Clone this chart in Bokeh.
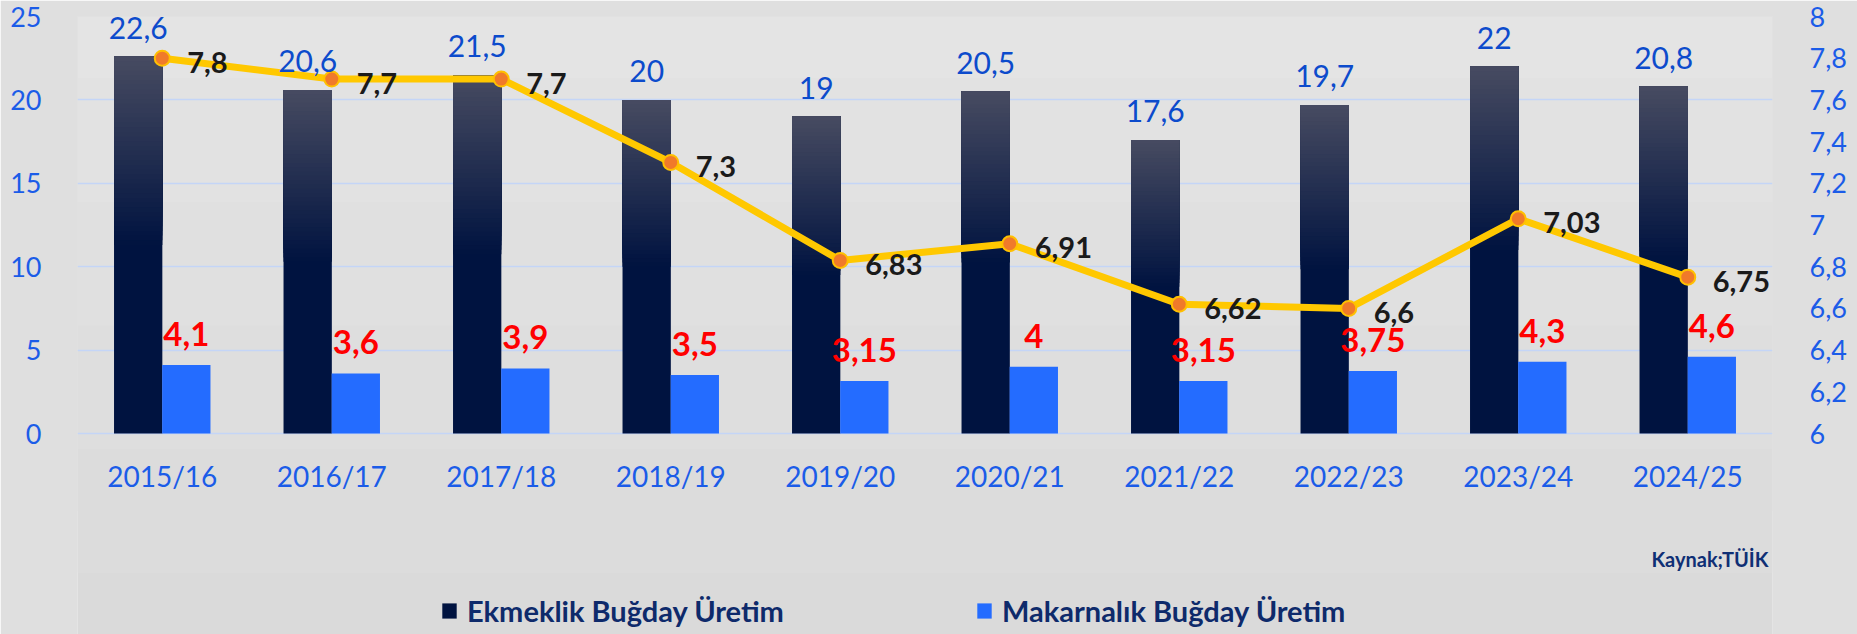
import numpy as np
from bokeh.plotting import figure
from bokeh.models import (FactorRange, Range1d, LinearAxis, FixedTicker, ColumnDataSource,
                          Legend, LegendItem, Label, CustomJSTickFormatter, BoxAnnotation)
from bokeh.transform import dodge
from bokeh.core.properties import value
from bokeh.embed import file_html
from bokeh.resources import INLINE

# ---------------- data ----------------
seasons = ["2015/16", "2016/17", "2017/18", "2018/19", "2019/20",
           "2020/21", "2021/22", "2022/23", "2023/24", "2024/25"]
ekmeklik = [22.6, 20.6, 21.5, 20, 19, 20.5, 17.6, 19.7, 22, 20.8]
makarnalik = [4.1, 3.6, 3.9, 3.5, 3.15, 4, 3.15, 3.75, 4.3, 4.6]
line_series = [7.8, 7.7, 7.7, 7.3, 6.83, 6.91, 6.62, 6.6, 7.03, 6.75]
left_ticks = [0, 5, 10, 15, 20, 25]
right_ticks = [6, 6.2, 6.4, 6.6, 6.8, 7, 7.2, 7.4, 7.6, 7.8, 8]
legend_labels = ["Ekmeklik Buğday Üretim", "Makarnalık Buğday Üretim"]
source_note = "Kaynak;TÜİK"

# ---------------- style ----------------
BG = "#dfdfdf"
BG_TOP = 0xe4
BG_BOTTOM = 0xda
TICK_BLUE = "#1b5ce8"
VAL_BLUE = "#0c4bcc"
NAVY = "#0e2a6b"
DARK_BOTTOM = (0x00, 0x13, 0x40)
DARK_TOP = (0x47, 0x4b, 0x61)
BLUE_BAR = "#246cff"
LINE_COL = "#ffc800"
FONT = "Lato"

W, H = 1857, 634
LEFT, RIGHT, TOP = 77, 85, 16
PLOT_PX = 417          # pixels between value 0 and 25 on the left axis
FRAME_H = H - TOP
below = FRAME_H - PLOT_PX

BAR_W = 0.285
OFF = 0.142


def fmt(v):
    return f"{v:g}".replace(".", ",")


y_lo = 0 - below * 25 / PLOT_PX
r_lo = 6 - below * 2 / PLOT_PX

p = figure(x_range=FactorRange(*seasons, range_padding=0), y_range=Range1d(y_lo, 25),
           width=W, height=H, output_backend="svg", toolbar_location=None,
           min_border_left=LEFT, min_border_right=RIGHT, min_border_top=TOP, min_border_bottom=0)
p.extra_y_ranges = {"right": Range1d(r_lo, 8)}
p.background_fill_color = BG
p.border_fill_color = BG
p.outline_line_color = None

# ---------------- soft vertical background gradient ----------------
NB = 10
for k in range(NB):
    yb = y_lo + (25 - y_lo) * k / NB
    t = (k + 0.5) / NB
    g = int(round(BG_BOTTOM + (BG_TOP - BG_BOTTOM) * t))
    p.add_layout(BoxAnnotation(bottom=yb, fill_color="#%02x%02x%02x" % (g, g, g), fill_alpha=1,
                               line_color=None, level="image"))

# ---------------- dark bars with vertical gradient ----------------
base_src = ColumnDataSource(dict(x=seasons, top=ekmeklik))
dark_base = p.vbar(x=dodge("x", -OFF, range=p.x_range), top="top", bottom=0, width=BAR_W,
                   source=base_src, fill_color="#001340", line_color=None)

N = 40
gx, gb, gt, gc = [], [], [], []
for k in range(N):
    f0 = 0.5 + 0.5 * k / N
    t = (k + 0.5) / N
    c = tuple(int(round(DARK_BOTTOM[i] + (DARK_TOP[i] - DARK_BOTTOM[i]) * t)) for i in range(3))
    for s, v in zip(seasons, ekmeklik):
        gx.append(s)
        gb.append(v * f0)
        gt.append(v)
        gc.append("#%02x%02x%02x" % c)
grad_src = ColumnDataSource(dict(x=gx, bottom=gb, top=gt, color=gc))
p.vbar(x=dodge("x", -OFF, range=p.x_range), top="top", bottom="bottom", width=BAR_W,
       source=grad_src, fill_color="color", line_color=None)

# ---------------- blue bars ----------------
blue_src = ColumnDataSource(dict(x=seasons, top=makarnalik))
blue_r = p.vbar(x=dodge("x", OFF, range=p.x_range), top="top", bottom=0, width=BAR_W,
                source=blue_src, fill_color=BLUE_BAR, line_color=None)

# ---------------- line ----------------
line_src = ColumnDataSource(dict(x=seasons, v=line_series, t=[fmt(v) for v in line_series]))
p.line(x="x", y="v", source=line_src, y_range_name="right", line_color=LINE_COL, line_width=7)
p.scatter(x="x", y="v", source=line_src, y_range_name="right", size=15,
          fill_color="#f07a2a", line_color="#ffc000", line_width=2)

# ---------------- value labels ----------------
ek_lab = ColumnDataSource(dict(x=seasons, y=ekmeklik, t=[fmt(v) for v in ekmeklik]))
p.text(x=dodge("x", -OFF, range=p.x_range), y="y", text="t", source=ek_lab,
       text_font=value(FONT), text_font_size=value("30px"), text_color=VAL_BLUE,
       text_align="center", text_baseline="middle", y_offset=-29)

mk_lab = ColumnDataSource(dict(x=seasons, y=makarnalik, t=[fmt(v) for v in makarnalik]))
p.text(x=dodge("x", OFF, range=p.x_range), y="y", text="t", source=mk_lab,
       text_font=value(FONT), text_font_size=value("33px"), text_font_style="bold",
       text_color="#ff0000", text_align="center", text_baseline="middle", y_offset=-31)

p.text(x="x", y="v", text="t", source=line_src, y_range_name="right",
       text_font=value(FONT), text_font_size=value("29px"), text_font_style="bold",
       text_color="#1a1a1a", text_align="left", text_baseline="middle",
       x_offset=25, y_offset=4)

# category labels (placed under the zero line)
cat_src = ColumnDataSource(dict(x=seasons, y=[0] * len(seasons), t=seasons))
p.text(x="x", y="y", text="t", source=cat_src,
       text_font=value(FONT), text_font_size=value("28px"), text_color=TICK_BLUE,
       text_align="center", text_baseline="middle", y_offset=42)

# ---------------- axes ----------------
p.xaxis.visible = False
p.yaxis.ticker = FixedTicker(ticks=left_ticks)
p.ygrid.ticker = FixedTicker(ticks=left_ticks)
for ax in p.yaxis:
    ax.axis_line_color = None
    ax.major_tick_line_color = None
    ax.minor_tick_line_color = None
    ax.major_label_text_font = FONT
    ax.major_label_text_color = TICK_BLUE
    ax.major_label_text_font_size = "27px"
    ax.major_label_standoff = 30

rax = LinearAxis(y_range_name="right", ticker=FixedTicker(ticks=right_ticks),
                 formatter=CustomJSTickFormatter(
                     code="var s = tick.toFixed(1).replace('.', ','); return s.endsWith(',0') ? s.slice(0, -2) : s;"))
rax.axis_line_color = None
rax.major_tick_line_color = None
rax.minor_tick_line_color = None
rax.major_label_text_font = FONT
rax.major_label_text_font_size = "27px"
rax.major_label_text_color = TICK_BLUE
rax.major_label_standoff = 31
p.add_layout(rax, "right")

p.ygrid.grid_line_color = "#c4d5f7"
p.ygrid.grid_line_width = 1.5
p.xgrid.grid_line_color = None

# ---------------- legend ----------------
for lab, rend, xpos in [(legend_labels[0], dark_base, 363), (legend_labels[1], blue_r, 898)]:
    lg = Legend(items=[LegendItem(label=lab, renderers=[rend])], location=(xpos, 6),
                orientation="horizontal", padding=0, margin=0, spacing=0,
                glyph_width=18, glyph_height=19, label_standoff=9, label_height=30,
                label_text_font=FONT, label_text_font_size="29px", label_text_font_style="bold",
                label_text_color=NAVY, background_fill_alpha=0, border_line_alpha=0)
    p.add_layout(lg, "center")

p.add_layout(Label(x=1768 - LEFT, y=H - 558, x_units="screen", y_units="screen", text=source_note,
                   text_font=FONT, text_font_size="20px", text_font_style="bold",
                   text_color="#0f2f75", text_baseline="middle", text_align="right"))

open("out.html", "w").write(file_html(p, INLINE))
